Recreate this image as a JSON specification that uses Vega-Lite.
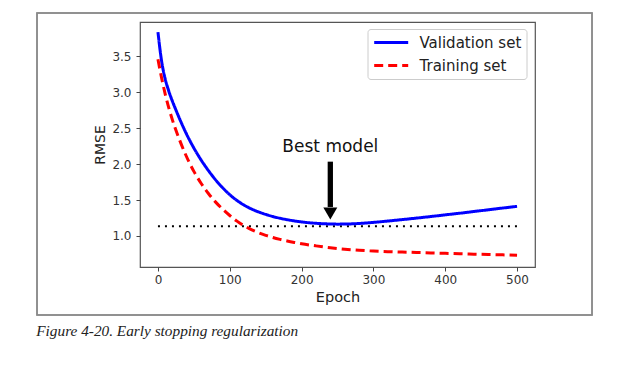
{
  "$schema": "https://vega.github.io/schema/vega-lite/v6.json",
  "width": 395,
  "height": 245,
  "autosize": {"type": "none"},
  "padding": {"left": 140, "top": 22, "right": 82, "bottom": 98},
  "background": "white",
  "config": {
    "view": {"stroke": "#555555", "strokeWidth": 1.2},
    "font": "DejaVu Sans",
    "legend": {
      "title": null,
      "orient": "none",
      "legendX": 227.5,
      "legendY": 7,
      "padding": 5,
      "fillColor": "white",
      "strokeColor": "#cccccc",
      "cornerRadius": 3,
      "symbolType": "M-1,0L4,0",
      "symbolSize": 185,
      "symbolStrokeWidth": 3,
      "labelFontSize": 15,
      "labelColor": "#222222",
      "labelOffset": 30,
      "rowPadding": 6
    }
  },
  "title": {
    "text": "Figure 4-20. Early stopping regularization",
    "orient": "bottom",
    "anchor": "start",
    "frame": "bounds",
    "font": "Liberation Serif",
    "fontStyle": "italic",
    "fontWeight": "normal",
    "fontSize": 15.3,
    "color": "#222222",
    "offset": 8
  },
  "datasets": {
    "curves": [
      {"epoch": 0, "rmse": 3.84, "series": "Validation set"},
      {"epoch": 2.5, "rmse": 3.625, "series": "Validation set"},
      {"epoch": 5, "rmse": 3.44, "series": "Validation set"},
      {"epoch": 7.5, "rmse": 3.3, "series": "Validation set"},
      {"epoch": 10, "rmse": 3.19, "series": "Validation set"},
      {"epoch": 15, "rmse": 3.02, "series": "Validation set"},
      {"epoch": 20, "rmse": 2.88, "series": "Validation set"},
      {"epoch": 25, "rmse": 2.755, "series": "Validation set"},
      {"epoch": 30, "rmse": 2.635, "series": "Validation set"},
      {"epoch": 40, "rmse": 2.415, "series": "Validation set"},
      {"epoch": 50, "rmse": 2.225, "series": "Validation set"},
      {"epoch": 60, "rmse": 2.06, "series": "Validation set"},
      {"epoch": 70, "rmse": 1.915, "series": "Validation set"},
      {"epoch": 80, "rmse": 1.785, "series": "Validation set"},
      {"epoch": 90, "rmse": 1.672, "series": "Validation set"},
      {"epoch": 100, "rmse": 1.575, "series": "Validation set"},
      {"epoch": 110, "rmse": 1.495, "series": "Validation set"},
      {"epoch": 120, "rmse": 1.43, "series": "Validation set"},
      {"epoch": 130, "rmse": 1.377, "series": "Validation set"},
      {"epoch": 140, "rmse": 1.335, "series": "Validation set"},
      {"epoch": 150, "rmse": 1.301, "series": "Validation set"},
      {"epoch": 160, "rmse": 1.271, "series": "Validation set"},
      {"epoch": 170, "rmse": 1.247, "series": "Validation set"},
      {"epoch": 180, "rmse": 1.227, "series": "Validation set"},
      {"epoch": 190, "rmse": 1.21, "series": "Validation set"},
      {"epoch": 200, "rmse": 1.196, "series": "Validation set"},
      {"epoch": 210, "rmse": 1.185, "series": "Validation set"},
      {"epoch": 220, "rmse": 1.177, "series": "Validation set"},
      {"epoch": 230, "rmse": 1.171, "series": "Validation set"},
      {"epoch": 240, "rmse": 1.167, "series": "Validation set"},
      {"epoch": 250, "rmse": 1.165, "series": "Validation set"},
      {"epoch": 260, "rmse": 1.166, "series": "Validation set"},
      {"epoch": 270, "rmse": 1.169, "series": "Validation set"},
      {"epoch": 280, "rmse": 1.174, "series": "Validation set"},
      {"epoch": 290, "rmse": 1.181, "series": "Validation set"},
      {"epoch": 300, "rmse": 1.189, "series": "Validation set"},
      {"epoch": 320, "rmse": 1.208, "series": "Validation set"},
      {"epoch": 340, "rmse": 1.228, "series": "Validation set"},
      {"epoch": 360, "rmse": 1.249, "series": "Validation set"},
      {"epoch": 380, "rmse": 1.271, "series": "Validation set"},
      {"epoch": 400, "rmse": 1.294, "series": "Validation set"},
      {"epoch": 420, "rmse": 1.317, "series": "Validation set"},
      {"epoch": 440, "rmse": 1.341, "series": "Validation set"},
      {"epoch": 460, "rmse": 1.365, "series": "Validation set"},
      {"epoch": 480, "rmse": 1.389, "series": "Validation set"},
      {"epoch": 500, "rmse": 1.413, "series": "Validation set"},
      {"epoch": 0, "rmse": 3.46, "series": "Training set"},
      {"epoch": 5, "rmse": 3.205, "series": "Training set"},
      {"epoch": 10, "rmse": 2.98, "series": "Training set"},
      {"epoch": 20, "rmse": 2.62, "series": "Training set"},
      {"epoch": 30, "rmse": 2.34, "series": "Training set"},
      {"epoch": 40, "rmse": 2.1, "series": "Training set"},
      {"epoch": 50, "rmse": 1.9, "series": "Training set"},
      {"epoch": 60, "rmse": 1.735, "series": "Training set"},
      {"epoch": 70, "rmse": 1.595, "series": "Training set"},
      {"epoch": 80, "rmse": 1.475, "series": "Training set"},
      {"epoch": 90, "rmse": 1.375, "series": "Training set"},
      {"epoch": 100, "rmse": 1.285, "series": "Training set"},
      {"epoch": 110, "rmse": 1.207, "series": "Training set"},
      {"epoch": 120, "rmse": 1.142, "series": "Training set"},
      {"epoch": 130, "rmse": 1.089, "series": "Training set"},
      {"epoch": 140, "rmse": 1.045, "series": "Training set"},
      {"epoch": 150, "rmse": 1.009, "series": "Training set"},
      {"epoch": 160, "rmse": 0.979, "series": "Training set"},
      {"epoch": 170, "rmse": 0.953, "series": "Training set"},
      {"epoch": 180, "rmse": 0.93, "series": "Training set"},
      {"epoch": 190, "rmse": 0.91, "series": "Training set"},
      {"epoch": 200, "rmse": 0.892, "series": "Training set"},
      {"epoch": 220, "rmse": 0.862, "series": "Training set"},
      {"epoch": 240, "rmse": 0.836, "series": "Training set"},
      {"epoch": 260, "rmse": 0.816, "series": "Training set"},
      {"epoch": 280, "rmse": 0.801, "series": "Training set"},
      {"epoch": 300, "rmse": 0.79, "series": "Training set"},
      {"epoch": 320, "rmse": 0.782, "series": "Training set"},
      {"epoch": 340, "rmse": 0.776, "series": "Training set"},
      {"epoch": 360, "rmse": 0.77, "series": "Training set"},
      {"epoch": 380, "rmse": 0.764, "series": "Training set"},
      {"epoch": 400, "rmse": 0.758, "series": "Training set"},
      {"epoch": 420, "rmse": 0.752, "series": "Training set"},
      {"epoch": 440, "rmse": 0.747, "series": "Training set"},
      {"epoch": 460, "rmse": 0.742, "series": "Training set"},
      {"epoch": 480, "rmse": 0.737, "series": "Training set"},
      {"epoch": 500, "rmse": 0.732, "series": "Training set"}
    ],
    "best": [
      {"epoch": 0, "rmse": 1.135},
      {"epoch": 500, "rmse": 1.135}
    ],
    "arrow": [
      {"epoch": 240, "rmse": 2.035, "rmse2": 1.404, "head": 1.313, "labelY": 2.165, "label": "Best model"}
    ]
  },
  "encoding": {
    "x": {
      "field": "epoch",
      "type": "quantitative",
      "scale": {"domain": [-25, 525], "nice": false, "zero": false},
      "axis": {
        "title": "Epoch",
        "values": [0, 100, 200, 300, 400, 500],
        "grid": false,
        "domain": false,
        "labelFlush": false,
        "tickSize": 4,
        "tickColor": "#444444",
        "labelFontSize": 12,
        "labelColor": "#333333",
        "labelPadding": 3,
        "titleFontSize": 14.5,
        "titleFontWeight": "normal",
        "titleColor": "#222222",
        "titlePadding": 5
      }
    },
    "y": {
      "field": "rmse",
      "type": "quantitative",
      "scale": {"domain": [0.568, 3.98], "nice": false, "zero": false},
      "axis": {
        "title": "RMSE",
        "values": [1, 1.5, 2, 2.5, 3, 3.5],
        "format": ".1f",
        "grid": false,
        "domain": false,
        "labelFlush": false,
        "tickSize": 4,
        "tickColor": "#444444",
        "labelFontSize": 12,
        "labelColor": "#333333",
        "labelPadding": 5,
        "titleFontSize": 14,
        "titleFontWeight": "normal",
        "titleColor": "#222222",
        "titlePadding": 4
      }
    }
  },
  "layer": [
    {
      "data": {"name": "best"},
      "mark": {"type": "rect", "fill": "transparent", "stroke": "#8a8a8a", "strokeWidth": 1.5, "clip": false},
      "encoding": {
        "x": {"datum": -168.4},
        "x2": {"datum": 604.4},
        "y": {"datum": 4.105},
        "y2": {"datum": -0.1}
      }
    },
    {
      "data": {"name": "best"},
      "mark": {"type": "line", "color": "black", "strokeWidth": 2, "strokeDash": [2, 5]},
      "encoding": {}
    },
    {
      "data": {"name": "curves"},
      "mark": {"type": "line", "strokeWidth": 3, "interpolate": "monotone"},
      "encoding": {
        "color": {
          "field": "series",
          "type": "nominal",
          "scale": {"domain": ["Validation set", "Training set"], "range": ["#0000ff", "#ff0000"]}
        },
        "strokeDash": {
          "field": "series",
          "type": "nominal",
          "scale": {"domain": ["Validation set", "Training set"], "range": [[1, 0], [9, 5]]}
        }
      }
    },
    {
      "data": {"name": "arrow"},
      "mark": {"type": "rule", "color": "black", "strokeWidth": 5.3, "strokeCap": "butt"},
      "encoding": {
        "y2": {"field": "rmse2"}
      }
    },
    {
      "data": {"name": "arrow"},
      "mark": {"type": "point", "shape": "triangle-down", "size": 196, "filled": true, "color": "black", "opacity": 1},
      "encoding": {
        "y": {"field": "head", "type": "quantitative"}
      }
    },
    {
      "data": {"name": "arrow"},
      "mark": {"type": "text", "fontSize": 17, "color": "#111111", "align": "center", "baseline": "alphabetic"},
      "encoding": {
        "y": {"field": "labelY", "type": "quantitative"},
        "text": {"field": "label"}
      }
    }
  ]
}
